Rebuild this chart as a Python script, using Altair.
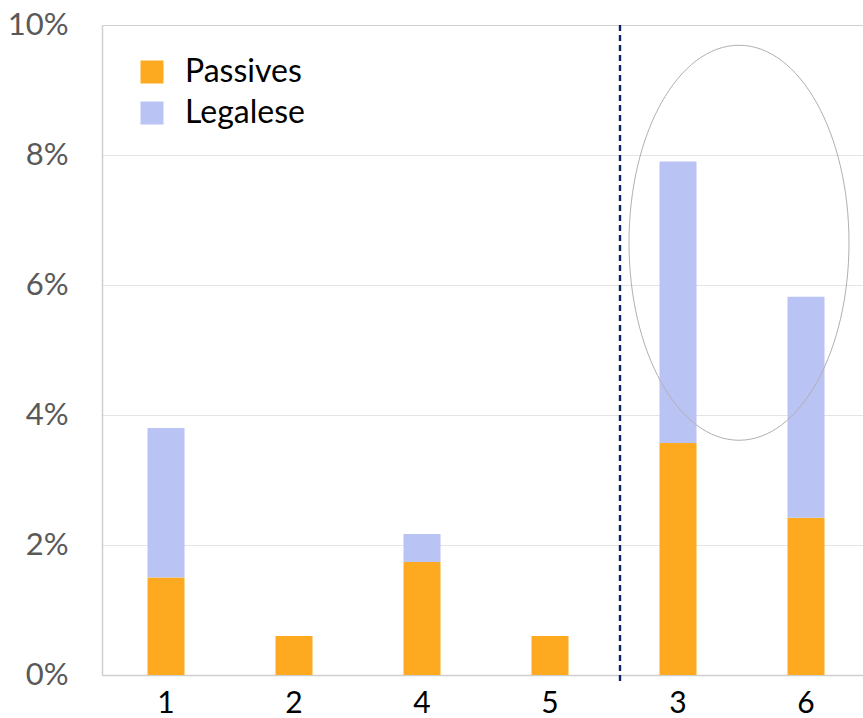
import altair as alt
import pandas as pd

categories = ["1", "2", "4", "5", "3", "6"]
passives = [0.015, 0.006, 0.0174, 0.006, 0.0357, 0.0242]
legalese = [0.023, 0.0, 0.0043, 0.0, 0.0433, 0.034]
series = ["Passives", "Legalese"]
colors = ["#FDAA20", "#BAC4F4"]
y_ticks = [0, 0.02, 0.04, 0.06, 0.08, 0.10]

rows = []
for c, p, l in zip(categories, passives, legalese):
    rows.append({"cat": c, "series": "Passives", "value": p, "ord": 0})
    if l > 0:
        rows.append({"cat": c, "series": "Legalese", "value": l, "ord": 1})
df = pd.DataFrame(rows)

FONT = "Lato"
x_scale = alt.Scale(domain=categories, paddingInner=0, paddingOuter=0, range=[0, 768])

x_enc = alt.X("cat:N", sort=categories, title=None, scale=x_scale,
              axis=alt.Axis(labelAngle=0, ticks=False, labelFontSize=30, labelColor="#000000",
                            labelFont=FONT, domainColor="#cfcfcf", domainWidth=1.5,
                            labelPadding=13, grid=False))

bars = alt.Chart(df).mark_bar(size=37).encode(
    x=x_enc,
    y=alt.Y("value:Q", stack="zero", title=None,
            scale=alt.Scale(domain=[0, 0.10], nice=False),
            axis=alt.Axis(values=y_ticks, format=".0%", ticks=False, labelFontSize=31,
                          labelColor="#595959", labelFont=FONT, labelPadding=34,
                          domainColor="#cfcfcf", domainWidth=1.5,
                          gridColor={"condition": {"test": "datum.value == 0.1", "value": "#cfcfcf"},
                                     "value": "#e4e4e4"},
                          gridWidth=1.2)),
    color=alt.Color("series:N", sort=series,
                    scale=alt.Scale(domain=series, range=colors),
                    legend=alt.Legend(title=None, orient="none", legendX=34, legendY=31,
                                      symbolType="square", symbolSize=529, symbolStrokeWidth=0,
                                      labelFontSize=32, labelFont=FONT, labelColor="#000000",
                                      labelOffset=17, rowPadding=9, padding=0)),
    order=alt.Order("ord:Q"),
)

rule_df = pd.DataFrame({"cat": ["3"]})
divider = alt.Chart(rule_df).mark_rule(color="#0B2466", strokeWidth=2.4,
                                       strokeDash=[6, 4], xOffset=6).encode(
    x=alt.X("cat:N", sort=categories, bandPosition=0, scale=x_scale),
    y=alt.value(0),
    y2=alt.value(657),
)

ell_df = pd.DataFrame({"cat": ["6"], "y": [0.0665]})
rx = 110 / 197.5
ellipse_path = f"M {-rx} 0 A {rx} 1 0 1 0 {rx} 0 A {rx} 1 0 1 0 {-rx} 0 Z"
ellipse = alt.Chart(ell_df).mark_point(shape=ellipse_path, size=395 ** 2, filled=False,
                                       stroke="#b0b0b0", strokeWidth=1, opacity=1,
                                       xOffset=-3).encode(
    x=alt.X("cat:N", sort=categories, bandPosition=0, scale=x_scale),
    y=alt.Y("y:Q"),
)

chart = alt.layer(bars, divider, ellipse).properties(
    width=761, height=650,
    autosize=alt.AutoSizeParams(type="none"),
    padding={"left": 102, "top": 25, "right": 0, "bottom": 43},
).configure_view(stroke=None).configure(font=FONT)

chart.save("out.html", embed_options={"renderer": "svg", "actions": False})
